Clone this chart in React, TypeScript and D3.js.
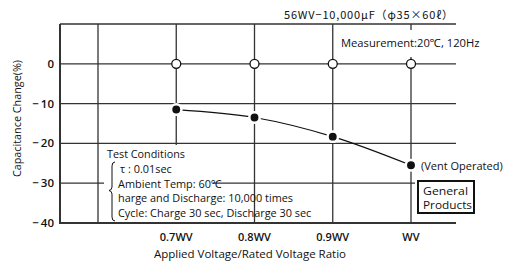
import React from "react";
import * as d3 from "d3";

const categories = ["0.7WV", "0.8WV", "0.9WV", "WV"];
const ratios = [0.7, 0.8, 0.9, 1.0];
const initialValues = [0, 0, 0, 0];
const afterValues = [-11.5, -13.5, -18.3, -25.5];
const yTicks = [0, -10, -20, -30, -40];
const gridRatios = [0.6, 0.7, 0.8, 0.9, 1.0];
const title = "56WV−10,000μF（φ35×60ℓ）";
const measurement = "Measurement:20℃, 120Hz";
const conditions = [
  "τ : 0.01sec",
  "Ambient Temp: 60℃",
  "harge and Discharge: 10,000 times",
  "Cycle: Charge 30 sec, Discharge 30 sec",
];

const W = 512;
const H = 265;
const left = 60;
const right = 456;
const top = 24;
const bottom = 223;
const font = "'Open Sans', 'Noto Sans', sans-serif";
const gridColor = "#333";

export default function App() {
  const x = d3.scaleLinear().domain([0.6, 1.0]).range([98, 411]);
  const y = d3.scaleLinear().domain([-40, 10]).range([bottom, top]);
  const pts = ratios.map((r, i) => [x(r), y(afterValues[i])] as [number, number]);
  const line = d3.line().curve(d3.curveMonotoneX)(pts) || "";
  const fmt = (v: number) => (v < 0 ? "−\u2009" + Math.abs(v) : String(v));

  return (
    <svg width={W} height={H} style={{ position: "absolute", left: 0, top: 0, background: "#fff" }} fontFamily={font}>
      <rect x={0} y={0} width={W} height={H} fill="#fff" />
      {yTicks.map((t) => (
        <line key={"h" + t} x1={left} x2={right} y1={y(t)} y2={y(t)} stroke={gridColor} strokeWidth={t === -40 ? 2 : 1.3} />
      ))}
      {gridRatios.map((r) => (
        <line key={"v" + r} x1={x(r)} x2={x(r)} y1={top} y2={bottom} stroke={gridColor} strokeWidth={1.3} />
      ))}
      <line x1={left} x2={right} y1={top} y2={top} stroke={gridColor} strokeWidth={1.5} />
      <line x1={left} x2={left} y1={top} y2={bottom + 1} stroke={gridColor} strokeWidth={2} />

      <rect x={104} y={145} width={109} height={77} fill="#fff" />
      <rect x={338} y={30} width={118} height={27} fill="#fff" />
      <rect x={415} y={178} width={62} height={38} fill="#fff" />

      <text x={453} y={19} textAnchor="end" fontSize={11} fontFamily="'Noto Sans CJK JP', sans-serif" textLength={169} lengthAdjust="spacing" fill="#111">{title}</text>
      <text x={341} y={47} fontSize={11.2} fill="#111">{measurement}</text>

      {yTicks.map((t) => (
        <text key={"yl" + t} x={54} y={y(t) + 4} textAnchor="end" fontSize={11.5} fontWeight={600} fill="#111">{fmt(t)}</text>
      ))}
      <text transform={`translate(21,${(55 + 182) / 2}) rotate(-90)`} textAnchor="middle" fontSize={10.8} fill="#111">Capacitance Change(%)</text>

      {categories.map((c, i) => (
        <text key={c} x={x(ratios[i])} y={241} textAnchor="middle" fontSize={11} fontWeight={600} fill="#111">{c}</text>
      ))}
      <text x={250} y={258} textAnchor="middle" fontSize={11.5} fill="#111">Applied Voltage/Rated Voltage Ratio</text>

      <path d={line} fill="none" stroke="#111" strokeWidth={1.2} />
      {pts.map((p, i) => (
        <circle key={"f" + i} cx={p[0]} cy={p[1]} r={5.2} fill="#111" stroke="#fff" strokeWidth={2.5} />
      ))}
      {ratios.map((r, i) => (
        <circle key={"o" + i} cx={x(r)} cy={y(initialValues[i])} r={4.5} fill="#fff" stroke="#111" strokeWidth={1.3} />
      ))}
      <text x={421} y={170} fontSize={11} fill="#111">(Vent Operated)</text>

      <rect x={418} y={181} width={56} height={32} fill="#fff" stroke="#111" strokeWidth={2} />
      <text x={423} y={195} fontSize={11} textLength={45} lengthAdjust="spacingAndGlyphs" fill="#111">General</text>
      <text x={423} y={208.5} fontSize={11} textLength={49} lengthAdjust="spacingAndGlyphs" fill="#111">Products</text>

      <text x={107} y={158} fontSize={10.8} fill="#111">Test Conditions</text>
      <path d="M115,162 Q112,162 112,166 L112,187 Q112,190 109,190.5 Q112,191 112,194 L112,217 Q112,221 115,221" fill="none" stroke="#111" strokeWidth={1} />
      {conditions.map((c, i) => (
        <text key={c} x={i === 0 ? 120 : 118} y={173 + i * 14.7} fontSize={10.9} fill="#111">{c}</text>
      ))}
    </svg>
  );
}
